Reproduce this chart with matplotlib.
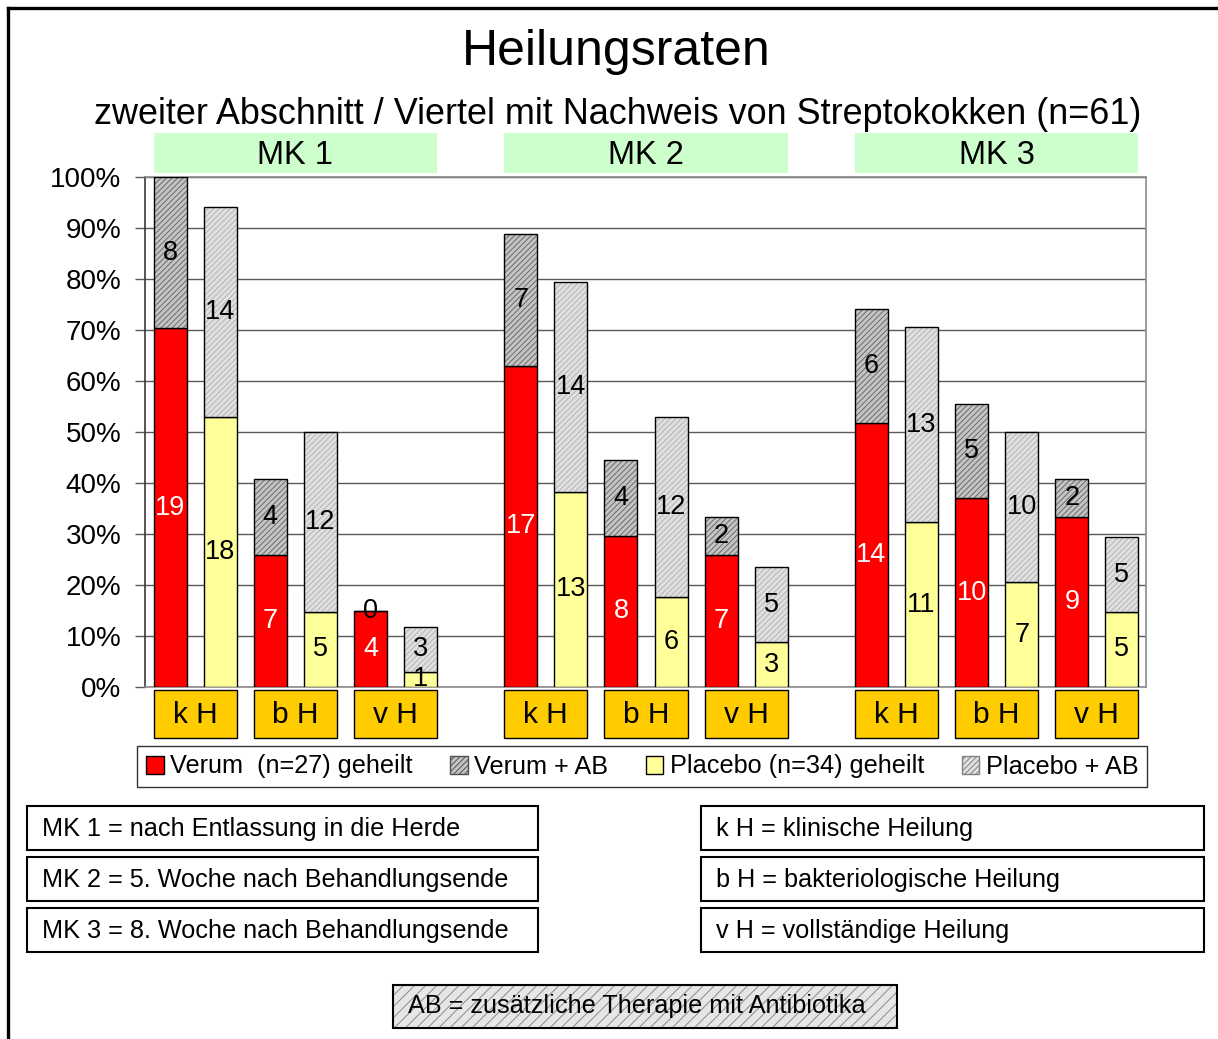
import matplotlib
matplotlib.use("Agg")
import matplotlib.pyplot as plt
import matplotlib.transforms as mtransforms
from matplotlib.patches import Rectangle, Patch
import numpy as np

plt.rcParams['font.family'] = ['Liberation Sans', 'DejaVu Sans']
plt.rcParams['hatch.linewidth'] = 0.7

# ---------------- data ----------------
title = "Heilungsraten"
subtitle = "zweiter Abschnitt / Viertel mit Nachweis von Streptokokken (n=61)"
groups = ["MK 1", "MK 2", "MK 3"]
categories = ["k H", "b H", "v H"]
verum_n = 27
placebo_n = 34
verum_geheilt = [19, 7, 4, 17, 8, 7, 14, 10, 9]
verum_ab = [8, 4, 0, 7, 4, 2, 6, 5, 2]
placebo_geheilt = [18, 5, 1, 13, 6, 3, 11, 7, 5]
placebo_ab = [14, 12, 3, 14, 12, 5, 13, 10, 5]
series_labels = ["Verum  (n=27) geheilt", "Verum + AB",
                 "Placebo (n=34) geheilt", "Placebo + AB"]
yticks = [0, 0.1, 0.2, 0.3, 0.4, 0.5, 0.6, 0.7, 0.8, 0.9, 1.0]
ytick_labels = ["0%", "10%", "20%", "30%", "40%", "50%", "60%", "70%", "80%", "90%", "100%"]
left_notes = ["MK 1 = nach Entlassung in die Herde",
              "MK 2 = 5. Woche nach Behandlungsende",
              "MK 3 = 8. Woche nach Behandlungsende"]
right_notes = ["k H = klinische Heilung",
               "b H = bakteriologische Heilung",
               "v H = vollständige Heilung"]
ab_note = "AB = zusätzliche Therapie mit Antibiotika"

# ---------------- figure ----------------
W, H = 1218, 1039
fig = plt.figure(figsize=(W / 100, H / 100), dpi=100)
bg = fig.add_axes([0, 0, 1, 1], zorder=0)
bg.set_xlim(0, W)
bg.set_ylim(H, 0)
bg.axis('off')

# outer frame (left + top)
bg.plot([7.5, 7.5], [7.5, H + 5], color='black', lw=2.4, solid_capstyle='projecting')
bg.plot([7.5, W + 5], [7.5, 7.5], color='black', lw=2.4, solid_capstyle='projecting')

bg.text(616, 52, title, ha='center', va='center', fontsize=36)
bg.text(618, 114, subtitle, ha='center', va='center', fontsize=25.9)

ax = fig.add_axes([145 / W, 1 - 687 / H, (1146 - 145) / W, 510 / H], zorder=2)

bw = 0.66
xv = []
xp = []
for g in range(len(groups)):
    for c in range(len(categories)):
        xv.append(g * 7 + c * 2)
        xp.append(g * 7 + c * 2 + 1)
xv = np.array(xv, dtype=float)
xp = np.array(xp, dtype=float)

vg = np.array(verum_geheilt) / verum_n
va = np.array(verum_ab) / verum_n
pg = np.array(placebo_geheilt) / placebo_n
pa = np.array(placebo_ab) / placebo_n

ax.bar(xv, vg, width=bw, color='#FF0000', edgecolor='black', lw=1, zorder=3)
ax.bar(xv, va, bottom=vg, width=bw, color='#c4c4c4', edgecolor='#6a6a6a',
       hatch='//////', lw=0, zorder=3)
ax.bar(xv, va, bottom=vg, width=bw, fill=False, edgecolor='black', lw=1, zorder=4)
ax.bar(xp, pg, width=bw, color='#FFFF99', edgecolor='black', lw=1, zorder=3)
ax.bar(xp, pa, bottom=pg, width=bw, color='#e0e0e0', edgecolor='#b4b4b4',
       hatch='//////', lw=0, zorder=3)
ax.bar(xp, pa, bottom=pg, width=bw, fill=False, edgecolor='black', lw=1, zorder=4)

fs_val = 19.5
for i in range(len(xv)):
    ax.text(xv[i], vg[i] / 2, str(verum_geheilt[i]), ha='center', va='center',
            color='white', fontsize=fs_val, zorder=5)
    ax.text(xv[i], vg[i] + va[i] / 2, str(verum_ab[i]), ha='center', va='center',
            color='black', fontsize=fs_val, zorder=5)
    ax.text(xp[i], pg[i] / 2, str(placebo_geheilt[i]), ha='center', va='center',
            color='black', fontsize=fs_val, zorder=5)
    ax.text(xp[i], pg[i] + pa[i] / 2, str(placebo_ab[i]), ha='center', va='center',
            color='black', fontsize=fs_val, zorder=5)

ax.set_xlim(-0.5, 19.48)
ax.set_ylim(0, 1)
ax.set_yticks(yticks)
ax.set_yticklabels(ytick_labels, fontsize=20)
ax.set_xticks([])
ax.yaxis.grid(True, color='#5a5a5a', lw=1, zorder=1)
ax.set_axisbelow(True)
ax.tick_params(axis='y', length=7, width=1, color='#5a5a5a', pad=10)
for s in ax.spines.values():
    s.set_color('#8a8a8a')
    s.set_linewidth(1.2)
ax.spines['left'].set_color('#3a3a3a')

# group header boxes (above plot) and category boxes (below plot)
tr = mtransforms.blended_transform_factory(ax.transData, fig.transFigure)
for g, name in enumerate(groups):
    x0 = g * 7 - bw / 2
    x1 = g * 7 + 5 + bw / 2
    fig.patches.append(Rectangle((x0, 1 - 173 / H), x1 - x0, 40 / H, transform=tr,
                                 facecolor='#CCFFCC', edgecolor='none', zorder=1))
    fig.texts.append(matplotlib.text.Text((x0 + x1) / 2, 1 - 155 / H, name, transform=tr,
                                          ha='center', va='center', fontsize=23.5))
    fig.texts[-1].set_figure(fig)
    for c, cat in enumerate(categories):
        s0 = g * 7 + c * 2 - bw / 2
        s1 = g * 7 + c * 2 + 1 + bw / 2
        fig.patches.append(Rectangle((s0, 1 - 738 / H), s1 - s0, 48 / H, transform=tr,
                                     facecolor='#FFCC00', edgecolor='black', lw=1, zorder=1))
        fig.texts.append(matplotlib.text.Text((s0 + s1) / 2, 1 - 715 / H, cat, transform=tr,
                                              ha='center', va='center', fontsize=21.5))
        fig.texts[-1].set_figure(fig)

# legend
handles = [Patch(facecolor='#FF0000', edgecolor='black'),
           Patch(facecolor='#c4c4c4', edgecolor='#505050', hatch='//////'),
           Patch(facecolor='#FFFF99', edgecolor='black'),
           Patch(facecolor='#e0e0e0', edgecolor='#808080', hatch='//////')]
leg = fig.legend(handles, series_labels, ncol=4, loc='center',
                 bbox_to_anchor=(137 / W, 1 - 788 / H, 1010 / W, 43 / H), mode='expand',
                 fontsize=18.2, handlelength=0.7, handleheight=0.7, handletextpad=0.25,
                 borderaxespad=0, fancybox=False, frameon=True, borderpad=0.35)
leg.get_frame().set_edgecolor('black')
leg.get_frame().set_linewidth(1)

# note boxes
ys = [806, 857, 908]
for y, t in zip(ys, left_notes):
    bg.add_patch(Rectangle((27, y), 511, 44, facecolor='white', edgecolor='black', lw=1.5))
    bg.text(42, y + 23, t, ha='left', va='center', fontsize=18.2)
for y, t in zip(ys, right_notes):
    bg.add_patch(Rectangle((701, y), 503, 44, facecolor='white', edgecolor='black', lw=1.5))
    bg.text(716, y + 23, t, ha='left', va='center', fontsize=18.2)

bg.add_patch(Rectangle((393, 985), 504, 43, facecolor='#e6e6e6', edgecolor='#8a8a8a',
                       hatch='///', lw=0))
bg.add_patch(Rectangle((393, 985), 504, 43, fill=False, edgecolor='black', lw=1.5))
bg.text(637, 1006, ab_note, ha='center', va='center', fontsize=18.2)

fig.savefig("out.png", dpi=100)
